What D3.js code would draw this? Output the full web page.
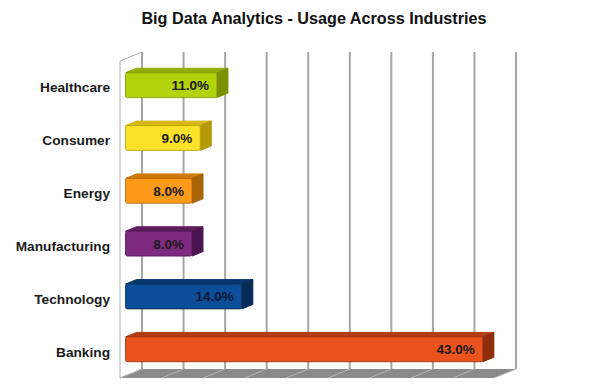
<!DOCTYPE html>
<html><head><meta charset="utf-8">
<script src="https://cdn.jsdelivr.net/npm/d3@7"></script>
<style>body{margin:0;background:#fff}svg{display:block}</style>
</head><body>
<script>
const categories = ["Healthcare","Consumer","Energy","Manufacturing","Technology","Banking"];
const values = [11, 9, 8, 8, 14, 43];
const frontColors = ["#b3d30c","#fde22a","#fd9a17","#7e2a80","#0c4f98","#ea541c"];
const topColors   = ["#94ad06","#d6b812","#d07a0a","#5e1c60","#08386e","#b23c12"];
const sideColors  = ["#7b9000","#b39a08","#a86404","#4c144e","#062c58","#8e2e0c"];
const labelColors = ["#1a1a1a","#1a1a1a","#1a1a1a","#1a1a1a","#0a1836","#1a1a1a"];
const xDomain = [0, 45];
const title = "Big Data Analytics - Usage Across Industries";

(function(){
const W = 603, H = 392;
const svg = d3.select("body").append("svg").attr("width", W).attr("height", H);

const x = d3.scaleLinear().domain(xDomain).range([142, 516]);
const y = d3.scaleBand().domain(categories).range([52, 369]).paddingInner(0.53).paddingOuter(0.265);
const DX = -22, DY = 9; // full depth offset back->front
const wallTop = 52, wallBottom = 369;
const pts = a => a.map(p=>p.join(",")).join(" ");
const FONT = "'Liberation Sans', Arial, sans-serif";

// Left wall
svg.append("polygon")
  .attr("points", pts([[x(0)+DX, wallTop+DY],[x(0), wallTop],[x(0), wallBottom],[x(0)+DX, wallBottom+DY]]))
  .attr("fill", "#fff").attr("stroke", "#b0b0b0").attr("stroke-width", 1);

// Floor
svg.append("polygon")
  .attr("points", pts([[x(0), wallBottom],[x(xDomain[1]), wallBottom],[x(xDomain[1])+DX, wallBottom+DY],[x(0)+DX, wallBottom+DY]]))
  .attr("fill", "#8a8a8a");
const ticks = d3.range(xDomain[0], xDomain[1]+0.01, 5);
svg.append("g").selectAll("line").data(ticks).join("line")
  .attr("x1", d=>x(d)).attr("y1", wallBottom).attr("x2", d=>x(d)+DX).attr("y2", wallBottom+DY)
  .attr("stroke", "#b8b8b8").attr("stroke-width", 1);

// Back wall gridlines
svg.append("g").selectAll("line").data(ticks).join("line")
  .attr("x1", d=>x(d)).attr("x2", d=>x(d)).attr("y1", wallTop).attr("y2", wallBottom)
  .attr("stroke", "#a6a6a6").attr("stroke-width", 2);

// Bars
const fF = 0.75, fB = 0.25;
const data = categories.map((c,i)=>({c, v: values[i], i}));
const bars = svg.append("g").selectAll("g").data(data).join("g");
bars.each(function(d){
  const g = d3.select(this);
  const by0 = y(d.c), by1 = y(d.c) + y.bandwidth();
  const fx0 = x(0)+DX*fF, fx1 = x(d.v)+DX*fF, fy0 = by0+DY*fF, fy1 = by1+DY*fF;
  const bx1 = x(d.v)+DX*fB, by0b = by0+DY*fB, by1b = by1+DY*fB;
  const bx0 = x(0)+DX*fB;
  g.append("polygon").attr("points", pts([[fx0, fy0],[bx0, by0b],[bx1, by0b],[fx1, fy0]]))
    .attr("fill", topColors[d.i]).attr("stroke", topColors[d.i]).attr("stroke-linejoin","round").attr("stroke-width",1);
  g.append("polygon").attr("points", pts([[fx1, fy0],[bx1, by0b],[bx1, by1b],[fx1, fy1]]))
    .attr("fill", sideColors[d.i]).attr("stroke", sideColors[d.i]).attr("stroke-linejoin","round").attr("stroke-width",1);
  g.append("rect").attr("x", fx0).attr("y", fy0).attr("width", fx1-fx0).attr("height", fy1-fy0)
    .attr("rx", 2).attr("fill", frontColors[d.i]).attr("stroke", sideColors[d.i]).attr("stroke-width", 0.8);
  g.append("text").attr("x", fx1-8).attr("y", (fy0+fy1)/2).attr("dy","0.36em")
    .attr("text-anchor","end").attr("font-family", FONT)
    .attr("font-weight","bold").attr("font-size", 13.5).attr("fill", labelColors[d.i])
    .text(d.v.toFixed(1) + "%");
});

// Category labels
svg.append("g").selectAll("text").data(categories).join("text")
  .attr("x", 110).attr("y", d=>y(d)+y.bandwidth()/2+DY).attr("dy","0.36em")
  .attr("text-anchor","end").attr("font-family", FONT)
  .attr("font-weight","bold").attr("font-size", 13.7).attr("fill","#1a1a1a")
  .text(d=>d);

// Title
svg.append("text").attr("x", 314).attr("y", 18).attr("dy","0.36em")
  .attr("text-anchor","middle").attr("font-family", FONT)
  .attr("font-weight","bold").attr("font-size", 16.2).attr("fill","#111")
  .text(title);
})();
</script>
</body></html>
